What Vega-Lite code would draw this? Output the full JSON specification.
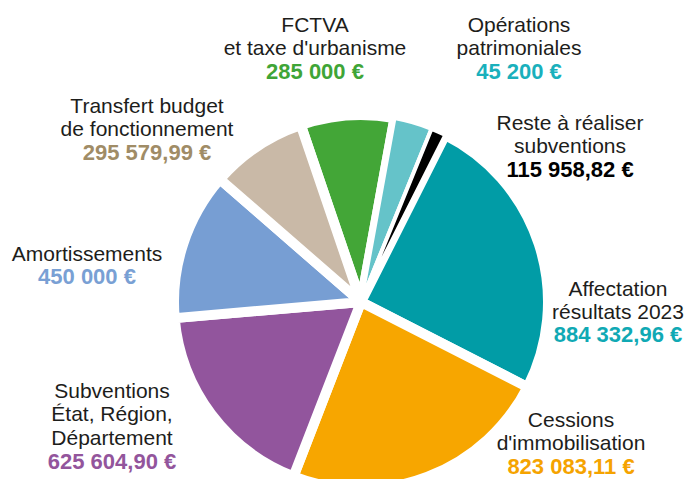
{
  "$schema": "https://vega.github.io/schema/vega-lite/v6.json",
  "width": 374,
  "height": 348,
  "autosize": "none",
  "padding": {"left": 174, "top": 128, "right": 142, "bottom": 3},
  "background": "white",
  "view": {"stroke": null},
  "data": {
    "values": [
      {"rang": 1, "poste": "FCTVA et taxe d'urbanisme", "montant": 285000, "libelle": "FCTVA\net taxe d'urbanisme", "montant_txt": "285 000 €", "lx": 315, "ly": 32, "lym": 79},
      {"rang": 2, "poste": "Reste à réaliser subventions", "montant": 115958.82, "libelle": "Reste à réaliser\nsubventions", "montant_txt": "115 958,82 €", "lx": 570, "ly": 130, "lym": 177},
      {"rang": 3, "poste": "Opérations patrimoniales", "montant": 45200, "libelle": "Opérations\npatrimoniales", "montant_txt": "45 200 €", "lx": 519, "ly": 32, "lym": 79},
      {"rang": 4, "poste": "Affectation résultats 2023", "montant": 884332.96, "libelle": "Affectation\nrésultats 2023", "montant_txt": "884 332,96 €", "lx": 618, "ly": 296, "lym": 342},
      {"rang": 5, "poste": "Cessions d'immobilisation", "montant": 823083.11, "libelle": "Cessions\nd'immobilisation", "montant_txt": "823 083,11 €", "lx": 571, "ly": 427, "lym": 474},
      {"rang": 6, "poste": "Subventions État, Région, Département", "montant": 625604.90, "libelle": "Subventions\nÉtat, Région,\nDépartement", "montant_txt": "625 604,90 €", "lx": 112, "ly": 398, "lym": 469},
      {"rang": 7, "poste": "Amortissements", "montant": 450000, "libelle": "Amortissements", "montant_txt": "450 000 €", "lx": 87, "ly": 261, "lym": 284},
      {"rang": 8, "poste": "Transfert budget de fonctionnement", "montant": 295579.99, "libelle": "Transfert budget\nde fonctionnement", "montant_txt": "295 579,99 €", "lx": 147, "ly": 113, "lym": 160}
    ]
  },
  "layer": [
    {
      "mark": {"type": "arc", "radius": 187, "stroke": "white", "strokeWidth": 10, "strokeJoin": "bevel"},
      "encoding": {
        "theta": {"field": "montant", "type": "quantitative", "stack": true, "scale": {"range": [-0.328, 5.955]}},
        "order": {"field": "rang", "type": "quantitative", "sort": "ascending"},
        "color": {
          "field": "poste", "type": "nominal", "legend": null,
          "scale": {
            "domain": ["FCTVA et taxe d'urbanisme", "Reste à réaliser subventions", "Opérations patrimoniales", "Affectation résultats 2023", "Cessions d'immobilisation", "Subventions État, Région, Département", "Amortissements", "Transfert budget de fonctionnement"],
            "range": ["#43a637", "#65c3c9", "#000000", "#019ca6", "#f7a600", "#92559d", "#779ed3", "#c9b9a7"]
          }
        }
      }
    },
    {
      "mark": {"type": "arc", "radius": 187, "stroke": "white", "strokeWidth": 4, "strokeJoin": "bevel"},
      "encoding": {
        "theta": {"field": "montant", "type": "quantitative", "stack": true},
        "order": {"field": "rang", "type": "quantitative", "sort": "ascending"},
        "color": {"field": "poste", "type": "nominal", "legend": null},
        "opacity": {"condition": {"test": "datum.montant < 200000", "value": 1}, "value": 0}
      }
    },
    {
      "mark": {"type": "text", "font": "Liberation Sans", "fontSize": 21, "lineHeight": 23.3, "lineBreak": "\n", "align": "center", "baseline": "alphabetic", "fill": "#1d1d1b"},
      "encoding": {
        "x": {"field": "lx", "type": "quantitative", "axis": null, "scale": {"domain": [174, 548], "zero": false, "nice": false}},
        "y": {"field": "ly", "type": "quantitative", "axis": null, "scale": {"domain": [128, 476], "range": [0, 348], "zero": false, "nice": false}},
        "text": {"field": "libelle", "type": "nominal"}
      }
    },
    {
      "mark": {"type": "text", "font": "Liberation Sans", "fontSize": 22, "fontWeight": "bold", "align": "center", "baseline": "alphabetic"},
      "encoding": {
        "x": {"field": "lx", "type": "quantitative"},
        "y": {"field": "lym", "type": "quantitative"},
        "text": {"field": "montant_txt", "type": "nominal"},
        "fill": {
          "field": "poste", "type": "nominal", "legend": null,
          "scale": {
            "domain": ["FCTVA et taxe d'urbanisme", "Reste à réaliser subventions", "Opérations patrimoniales", "Affectation résultats 2023", "Cessions d'immobilisation", "Subventions État, Région, Département", "Amortissements", "Transfert budget de fonctionnement"],
            "range": ["#3fa537", "#000000", "#1ab0bc", "#10a9b4", "#f5a300", "#93559c", "#79a0d4", "#a08c66"]
          }
        }
      }
    }
  ]
}
